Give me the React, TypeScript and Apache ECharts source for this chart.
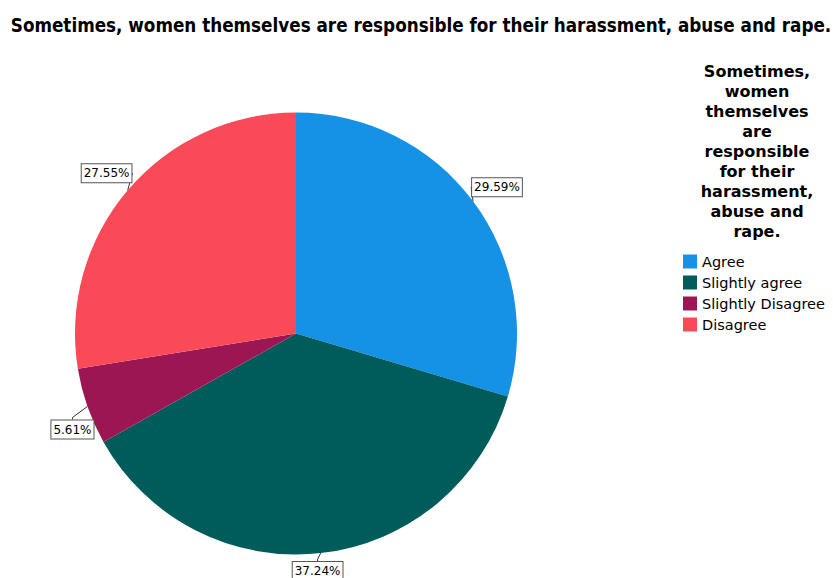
import React, { useEffect, useRef } from "react";
import * as echarts from "echarts";

const categories = ["Agree", "Slightly agree", "Slightly Disagree", "Disagree"];
const values = [29.59, 37.24, 5.61, 27.55];
const colors = ["#1592E6", "#005B5B", "#9C1653", "#FB4A57"];
const chartTitle = "Sometimes, women themselves are responsible for their harassment, abuse and rape.";
const legendTitle = "Sometimes,\nwomen\nthemselves\nare\nresponsible\nfor their\nharassment,\nabuse and\nrape.";
// label box offset (left, top) relative to the slice edge point at mid-angle
const labelOffsets = [
  [-1, -23],
  [-28, 9],
  [-36, 14],
  [-46, -26],
];

export default function App() {
  const ref = useRef<HTMLDivElement>(null);
  useEffect(() => {
    if (!ref.current) return;
    const chart = echarts.init(ref.current, null, { renderer: "svg" });
    chart.setOption({
      animation: false,
      backgroundColor: "#ffffff",
      title: [
        {
          text: chartTitle,
          left: 421,
          top: 16,
          textAlign: "center",
          padding: 0,
          textStyle: {
            fontFamily: "DejaVu Sans Condensed, DejaVu Sans",
            fontWeight: "bold",
            fontSize: 18.7,
            color: "#000",
          },
        },
        {
          text: legendTitle,
          left: 757,
          top: 61,
          textAlign: "center",
          padding: 0,
          textStyle: {
            fontFamily: "DejaVu Sans",
            fontWeight: "bold",
            fontSize: 16,
            lineHeight: 20,
            color: "#000",
          },
        },
      ],
      legend: {
        orient: "vertical",
        left: 683,
        top: 254,
        padding: 0,
        icon: "rect",
        itemWidth: 14,
        itemHeight: 14,
        itemGap: 6,
        data: categories,
        textStyle: { fontFamily: "DejaVu Sans", fontSize: 14.5, color: "#000" },
      },
      color: colors,
      series: [
        {
          type: "pie",
          center: [296, 333.5],
          radius: 221,
          startAngle: 90,
          clockwise: true,
          data: categories.map((c, i) => ({ name: c, value: values[i] })),
          itemStyle: { borderWidth: 0 },
          label: {
            show: true,
            position: "outside",
            formatter: (p: any) => p.value.toFixed(2) + "%",
            fontFamily: "DejaVu Sans",
            fontSize: 12,
            color: "#000",
            backgroundColor: "#fff",
            borderColor: "#555",
            borderWidth: 1,
            padding: [3, 2, 3, 2],
          },
          labelLine: {
            show: true,
            length: 6,
            length2: 2,
            lineStyle: { color: "#333", width: 1 },
          },
          labelLayout: (p: any) => {
            const pt = p.labelLinePoints ? p.labelLinePoints[0] : [p.labelRect.x, p.labelRect.y];
            const off = labelOffsets[p.dataIndex];
            return {
              x: pt[0] + off[0],
              y: pt[1] + off[1],
              align: "left",
              verticalAlign: "top",
            };
          },
          emphasis: { disabled: true },
        },
      ],
    });
    return () => chart.dispose();
  }, []);
  return (
    <div
      ref={ref}
      style={{ position: "absolute", left: 0, top: 0, width: 833, height: 578 }}
    />
  );
}
